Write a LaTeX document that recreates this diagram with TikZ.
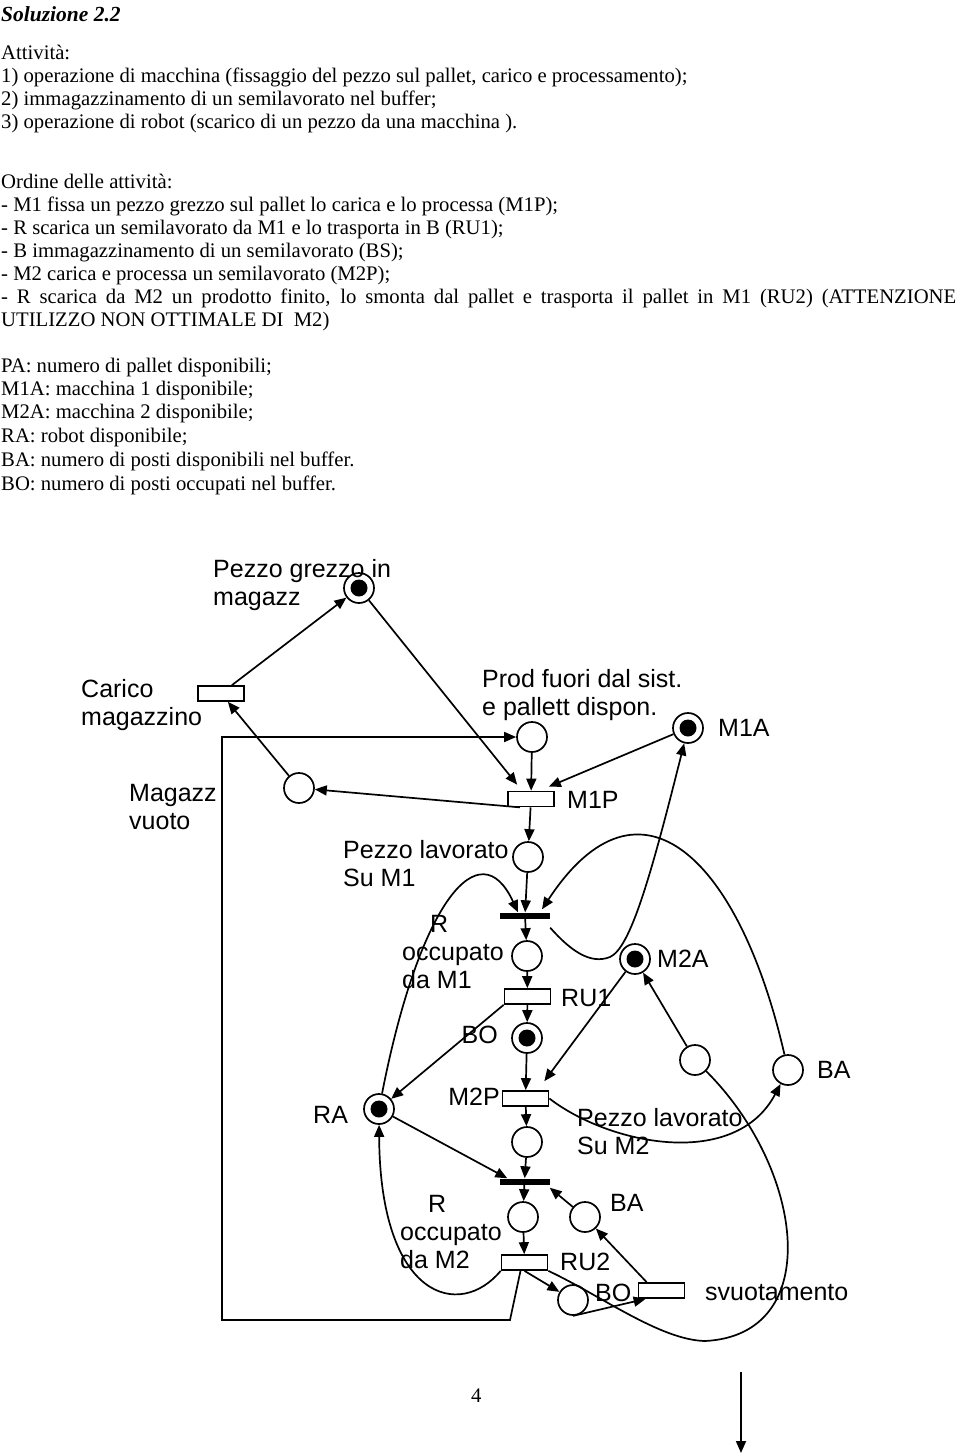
\documentclass[tikz,border=0pt]{standalone}
\usepackage{fontspec}
\setmainfont{Liberation Serif}
\newfontfamily\arialfont{Liberation Sans}
\usetikzlibrary{arrows.meta, calc}

\begin{document}
\begin{tikzpicture}[x=1pt, y=-1pt,
      place/.style={circle, draw, line width=1.7pt, minimum size=30pt, inner sep=0pt},
      tok/.style={place, path picture={\fill (path picture bounding box.center) circle (8.5pt);}},
      trans/.style={rectangle, draw, line width=1.7pt, minimum width=46pt,
        minimum height=15pt, inner sep=0pt},
      bar/.style={rectangle, fill=black, minimum width=50pt, minimum height=6pt, inner sep=0pt},
      lbl/.style={font=\arialfont\fontsize{25}{28}\selectfont, inner sep=0pt, align=left},
      body/.style={font=\fontsize{20.7}{23}\selectfont, inner sep=0pt, anchor=base west},
      arr/.style={-{Triangle[length=12pt, width=10pt]}, line width=1.7pt},
      link/.style={line width=1.7pt}
    ]
    \useasboundingbox (0,0) rectangle (960,1454);

    % --- Text of the solution ---
    \node[body] (t0)  at (1,21)  {\fontsize{21.5}{23}\selectfont\bfseries\itshape Soluzione 2.2};
    \node[body] (t1)  at (1,59)  {Attività:};
    \node[body] (t2)  at (1,82)  {1) operazione di macchina (fissaggio del pezzo sul pallet, carico e processamento);};
    \node[body] (t3)  at (1,105) {2) immagazzinamento di un semilavorato nel buffer;};
    \node[body] (t4)  at (1,128) {3) operazione di robot (scarico di un pezzo da una macchina ).};
    \node[body] (t5)  at (1,188) {Ordine delle attività:};
    \node[body] (t6)  at (1,211) {- M1 fissa un pezzo grezzo sul pallet lo carica e lo processa (M1P);};
    \node[body] (t7)  at (1,234) {- R scarica un semilavorato da M1 e lo trasporta in B (RU1);};
    \node[body] (t8)  at (1,257) {- B immagazzinamento di un semilavorato (BS);};
    \node[body] (t9)  at (1,280) {- M2 carica e processa un semilavorato (M2P);};
    \node[body] (t10) at (1,303) {\makebox[955pt][s]{- R scarica da M2 un prodotto finito, lo smonta dal pallet e trasporta il pallet in M1 (RU2) (ATTENZIONE}};
    \node[body] (t11) at (1,326) {UTILIZZO NON OTTIMALE DI\ \ M2)};
    \node[body] (t12) at (1,372) {PA: numero di pallet disponibili;};
    \node[body] (t13) at (1,395) {M1A: macchina 1 disponibile;};
    \node[body] (t14) at (1,418) {M2A: macchina 2 disponibile;};
    \node[body] (t15) at (1,442) {RA: robot disponibile;};
    \node[body] (t16) at (1,466) {BA: numero di posti disponibili nel buffer.};
    \node[body] (t17) at (1,490) {BO: numero di posti occupati nel buffer.};

    % --- Places and transitions ---
    \node[tok]   (pg)     at (359,588)      {};
    \node[trans] (carico) at (221,693.5)    {};
    \node[place] (mv)     at (299,788)      {};
    \node[place] (pf)     at (532,737)      {};
    \node[tok]   (m1a)    at (688,728)      {};
    \node[trans] (m1p)    at (531,799)      {};
    \node[place] (pl1)    at (528,857)      {};
    \node[bar]   (bar1)   at (525,915.5)    {};
    \node[place] (rm1)    at (527,956)      {};
    \node[trans] (ru1)    at (527.5,996.5)  {};
    \node[tok]   (bo)     at (527,1038)     {};
    \node[tok]   (m2a)    at (635,959)      {};
    \node[tok]   (ra)     at (379,1109)     {};
    \node[place] (bau)    at (788,1070)     {};
    \node[place] (px)     at (695,1060)     {};
    \node[trans] (m2p)    at (525.5,1098.5) {};
    \node[place] (pl2)    at (527,1142)     {};
    \node[bar]   (bar2)   at (524.5,1181.5) {};
    \node[place] (rm2)    at (523,1217)     {};
    \node[place] (bal)    at (585,1217)     {};
    \node[trans] (ru2)    at (524.5,1262.5) {};
    \node[place] (bo2)    at (573,1300)     {};
    \node[trans] (svu)    at (661.5,1290.5) {};

    % --- Labels ---
    \node[lbl, anchor=north west] (lpg)  at (213,559)  {Pezzo grezzo in\\magazz};
    \node[lbl, anchor=north west] (lcar) at (81,679)   {Carico\\magazzino};
    \node[lbl, anchor=north west] (lmv)  at (129,784)  {Magazz\\vuoto};
    \node[lbl, anchor=north west] (lpf)  at (482,669)  {Prod fuori dal sist.\\e pallett dispon.};
    \node[lbl, anchor=west]       (lm1a) at (718,728)  {M1A};
    \node[lbl, anchor=west]       (lm1p) at (567,800)  {M1P};
    \node[lbl, anchor=north west] (lpl1) at (343,840)  {Pezzo lavorato\\Su M1};
    \node[lbl, anchor=north west] (lrm1) at (402,915)  {\hspace*{28pt}R\\occupato\\da M1};
    \node[lbl, anchor=west]       (lru1) at (561,998)  {RU1};
    \node[lbl, anchor=east]       (lbo)  at (498,1035) {BO};
    \node[lbl, anchor=west]       (lm2a) at (657,959)  {M2A};
    \node[lbl, anchor=west]       (lbau) at (817,1070) {BA};
    \node[lbl, anchor=west]       (lra)  at (313,1115) {RA};
    \node[lbl, anchor=east]       (lm2p) at (500,1097) {M2P};
    \node[lbl, anchor=north west] (lpl2) at (577,1108) {Pezzo lavorato\\Su M2};
    \node[lbl, anchor=north west] (lrm2) at (400,1195) {\hspace*{28pt}R\\occupato\\da M2};
    \node[lbl, anchor=west]       (lbal) at (610,1203) {BA};
    \node[lbl, anchor=west]       (lru2) at (560,1262) {RU2};
    \node[lbl, anchor=west]       (lbo2) at (595,1293) {BO};
    \node[lbl, anchor=west]       (lsvu) at (705,1293) {svuotamento};

    % --- Arcs of the net ---
    \draw[arr] (carico) -- (pg);
    \draw[arr] (mv) -- (carico);
    \draw[arr] (pg) -- ([xshift=10pt,yshift=6pt]m1p.north west);
    \draw[arr] (pf) -- (m1p);
    \draw[arr] (m1a) -- ([xshift=-6pt,yshift=4pt]m1p.north east);
    \draw[arr] ([xshift=-11pt]m1p.south) -- (mv);
    \draw[arr] (m1p) -- (pl1);
    \draw[arr] (pl1) -- (bar1);
    \draw[arr] (ra) .. controls (420,900) and (480,830) .. ([xshift=-7pt]bar1.north);
    \draw[arr] (bau) .. controls (740,860) and (640,760) .. ([xshift=17pt,yshift=3pt]bar1.north);
    \draw[arr] ([yshift=-9pt]bar1.south east) .. controls (570,950) and (590,965) .. (610,957)
      .. controls (630,948) and (650,880) .. (m1a);
    \draw[arr] (bar1) -- (rm1);
    \draw[arr] (rm1) -- (ru1);
    \draw[arr] (ru1) -- (bo);
    \draw[arr] (ru1.south west) -- (ra);
    \draw[arr] (bo) -- (m2p);
    \draw[arr] (m2a) -- ([xshift=-5pt,yshift=9pt]m2p.north east);
    \draw[arr] (m2p) -- (pl2);
    \draw[arr] (pl2) -- (bar2);
    \draw[arr] (ra) -- ([xshift=8pt]bar2.north west);
    \draw[arr] (bar2) -- (rm2);
    \draw[arr] (bal) -- ([yshift=-3pt]bar2.south east);
    \draw[arr] (rm2) -- (ru2);
    \draw[arr] (ru2.south west) .. controls (460,1320) and (380,1300) .. (ra);
    \draw[arr] (ru2.south) -- (bo2);
    \draw[arr] (bo2.south) -- ([xshift=8pt]svu.south west);
    \draw[arr] ([xshift=9pt]svu.north west) -- (bal);
    \draw[arr] (m2p.east) .. controls (610,1145) and (735,1170) .. (bau);
    \draw[arr] (px) -- (m2a);
    \draw[link] (ru2.south east) .. controls (600,1295) and (660,1340) .. (705,1341)
      .. controls (825,1335) and (805,1170) .. (px);

    % --- Return of the pallet to M1 ---
    \coordinate (rA) at (510,1320);
    \coordinate (rB) at (222,1320);
    \coordinate (rC) at (222,737);
    \draw[arr] ([xshift=-4pt]ru2.south) -- (rA) -- (rB) -- (rC) -- (pf);

    % --- Page foot ---
    \node[body] (pnum) at (471,1402) {4};
    \coordinate (dA) at (741,1372);
    \coordinate (dB) at (741,1453);
    \draw[arr] (dA) -- (dB);
  \end{tikzpicture}
\end{document}
